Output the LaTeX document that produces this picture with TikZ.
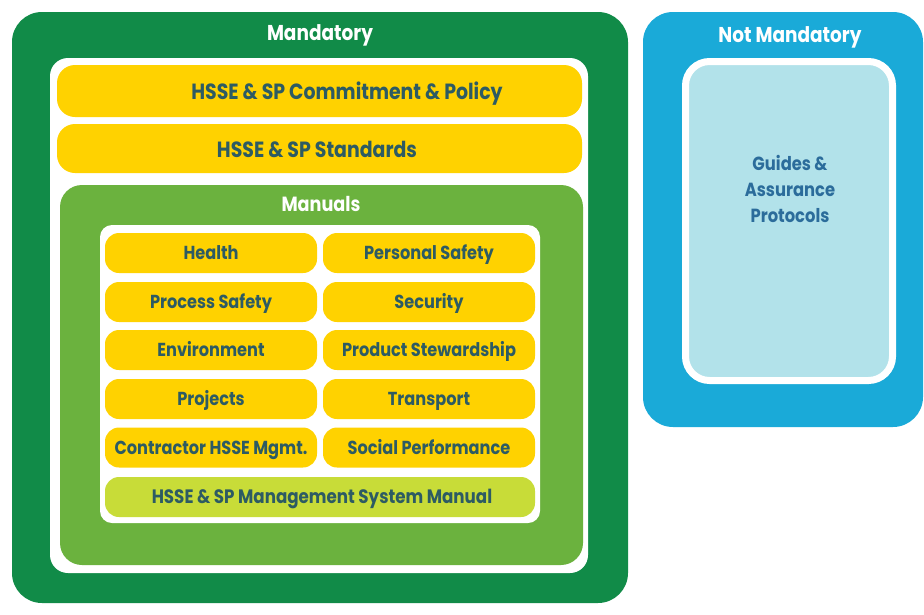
\documentclass[tikz,border=0pt]{standalone}
\usepackage{fontspec}
\setmainfont{Poppins}[FakeStretch=0.86]
\definecolor{dkgreen}{HTML}{118B48}
\definecolor{midgreen}{HTML}{6BB23E}
\definecolor{ylw}{HTML}{FFD200}
\definecolor{lime}{HTML}{C8DC38}
\definecolor{blu}{HTML}{1AAAD8}
\definecolor{ltblue}{HTML}{B2E2EA}
\definecolor{txt}{HTML}{2D5B63}
\definecolor{gtxt}{HTML}{2B6C9B}
\begin{document}
\begin{tikzpicture}[x=1pt,y=-1pt,
  panel/.style={rounded corners=#1, inner sep=0pt, outer sep=0pt},
  cell/.style={panel=14pt, fill=ylw, minimum width=212pt, minimum height=40pt},
  title/.style={text=white, font=\bfseries\fontsize{21.5}{25}\selectfont},
  bartext/.style={text=txt, anchor=base, yshift=-7.5pt, font=\bfseries\fontsize{22}{25}\selectfont},
  celltext/.style={text=txt, anchor=base, yshift=-6.5pt, font=\bfseries\fontsize{18.8}{22}\selectfont}]
\useasboundingbox (0,0) rectangle (924,614);
% Mandatory
\node[panel=30pt, fill=dkgreen, minimum width=616pt, minimum height=591pt] (mand) at (320,307.5) {};
\node[title] (mandT) at (320,35) {Mandatory};
\node[panel=18pt, fill=white, minimum width=538pt, minimum height=515pt] (mwhite) at (319,315.5) {};
\node[panel=18pt, fill=ylw, minimum width=525pt, minimum height=52pt] (policy) at (319.5,91) {};
\node[bartext] (policyT) at (347,92) {HSSE \& SP Commitment \& Policy};
\node[panel=18pt, fill=ylw, minimum width=525pt, minimum height=49pt] (std) at (319.5,148.5) {};
\node[bartext] (stdT) at (317,150) {HSSE \& SP Standards};
\node[panel=22pt, fill=midgreen, minimum width=523pt, minimum height=380pt] (manuals) at (321.5,375) {};
\node[title, font=\bfseries\fontsize{20.5}{24}\selectfont] (manualsT) at (321,204) {Manuals};
\node[panel=12pt, fill=white, minimum width=440pt, minimum height=298pt] (iwhite) at (320,374) {};
% cells
\node[cell] (c11) at (211,253) {};   \node[celltext] at (c11) {Health};
\node[cell] (c12) at (429,253) {};   \node[celltext] at (c12) {Personal Safety};
\node[cell] (c21) at (211,302) {};   \node[celltext] at (c21) {Process Safety};
\node[cell] (c22) at (429,302) {};   \node[celltext] at (c22) {Security};
\node[cell] (c31) at (211,350) {};   \node[celltext] at (c31) {Environment};
\node[cell] (c32) at (429,350) {};   \node[celltext] at (c32) {Product Stewardship};
\node[cell] (c41) at (211,399) {};   \node[celltext] at (c41) {Projects};
\node[cell] (c42) at (429,399) {};   \node[celltext] at (c42) {Transport};
\node[cell] (c51) at (211,447.5) {}; \node[celltext] at (c51) {Contractor HSSE Mgmt.};
\node[cell] (c52) at (429,447.5) {}; \node[celltext] at (c52) {Social Performance};
\node[panel=14pt, fill=lime, minimum width=430pt, minimum height=40pt] (msm) at (320,497) {};
\node[celltext, font=\bfseries\fontsize{19.4}{22}\selectfont] (msmT) at (322,497) {HSSE \& SP Management System Manual};
% Not mandatory
\node[panel=30pt, fill=blu, minimum width=280pt, minimum height=415pt] (notm) at (783,219.5) {};
\node[title] (notmT) at (790,37) {Not Mandatory};
\node[panel=24pt, fill=ltblue, draw=white, line width=7pt, minimum width=207pt, minimum height=319pt] (guides) at (789,221) {};
\node[text=gtxt, align=center, font=\bfseries\fontsize{19}{26}\selectfont] (guidesT) at (790,189) {Guides \&\\Assurance\\Protocols};
\end{tikzpicture}
\end{document}
